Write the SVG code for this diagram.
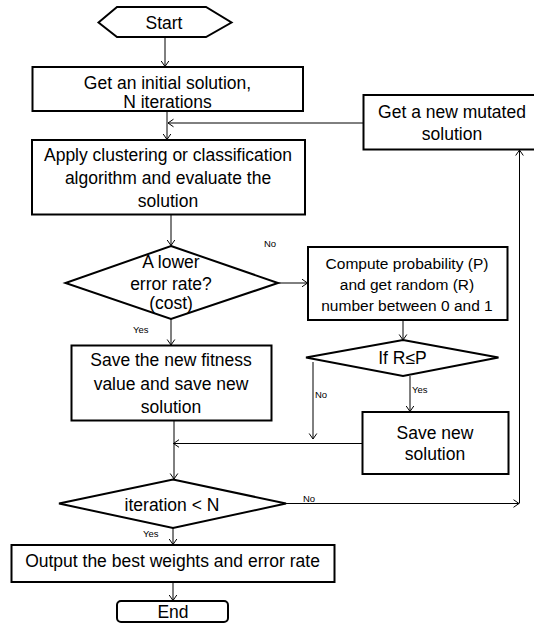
<svg xmlns="http://www.w3.org/2000/svg" width="534" height="625" viewBox="0 0 534 625">
<defs>
<style>
.n{fill:#fff;stroke:#000;stroke-width:2}
.t{font-family:"Liberation Sans",Arial,sans-serif;font-size:17.5px;fill:#000;text-anchor:middle}
.s{font-family:"Liberation Sans",Arial,sans-serif;font-size:15.5px;fill:#000;text-anchor:middle}
.l{font-family:"Liberation Sans",Arial,sans-serif;font-size:9.5px;fill:#000}
.c{fill:none;stroke:#000;stroke-width:1}
</style>
<marker id="a" markerUnits="userSpaceOnUse" markerWidth="10" markerHeight="10" viewBox="-6 -5 7 10" refX="0" refY="0" orient="auto">
<path d="M-5.5,-3.8 L0,0 L-5.5,3.8" fill="none" stroke="#000" stroke-width="1"/>
</marker>
</defs>
<rect width="534" height="625" fill="#fff"/>
<g id="connectors">
<line class="c" x1="165" y1="37" x2="165" y2="66.5" marker-end="url(#a)"/>
<line class="c" x1="167" y1="111" x2="167" y2="139.5" marker-end="url(#a)"/>
<line class="c" x1="363" y1="123" x2="168" y2="123" marker-end="url(#a)"/>
<line class="c" x1="171" y1="214" x2="171" y2="245.5" marker-end="url(#a)"/>
<line class="c" x1="278" y1="283" x2="307.5" y2="283" marker-end="url(#a)"/>
<line class="c" x1="171" y1="319" x2="171" y2="345" marker-end="url(#a)"/>
<line class="c" x1="403" y1="320" x2="403" y2="340" marker-end="url(#a)"/>
<line class="c" x1="313" y1="362" x2="313" y2="439" marker-end="url(#a)"/>
<line class="c" x1="410" y1="376" x2="410" y2="411.5" marker-end="url(#a)"/>
<line class="c" x1="362" y1="443.5" x2="173.5" y2="443.5" marker-end="url(#a)"/>
<line class="c" x1="174" y1="420.5" x2="174" y2="479" marker-end="url(#a)"/>
<line class="c" x1="286" y1="503.5" x2="519" y2="503.5" marker-end="url(#a)"/>
<line class="c" x1="519.5" y1="503.5" x2="519.5" y2="150" marker-end="url(#a)"/>
<line class="c" x1="173" y1="528" x2="173" y2="544.5" marker-end="url(#a)"/>
<line class="c" x1="173" y1="582" x2="173" y2="600.5" marker-end="url(#a)"/>
<text class="l" x="264" y="247">No</text>
<text class="l" x="133" y="333">Yes</text>
<text class="l" x="315" y="398">No</text>
<text class="l" x="412" y="393">Yes</text>
<text class="l" x="303" y="501.5">No</text>
<text class="l" x="143" y="537">Yes</text>
</g>
<g id="start">
<polygon class="n" points="98.5,22.5 117,7 206,7 231.5,22.5 206,37 117,37"/>
<text class="t" x="164" y="29">Start</text>
</g>
<g id="init">
<rect class="n" x="32.5" y="67" width="270.5" height="44"/>
<text class="t" x="167.5" y="89">Get an initial solution,</text>
<text class="t" x="167.5" y="108">N iterations</text>
</g>
<g id="mutate">
<rect class="n" x="363.5" y="95" width="175" height="54.5"/>
<text class="t" x="452" y="118">Get a new mutated</text>
<text class="t" x="452" y="140">solution</text>
</g>
<g id="apply">
<rect class="n" x="32" y="140" width="273" height="74.5"/>
<text class="t" x="168" y="160.5">Apply clustering or classification</text>
<text class="t" x="168" y="183.5">algorithm and evaluate the</text>
<text class="t" x="168" y="206.5">solution</text>
</g>
<g id="lower">
<polygon class="n" points="171,246 278,283 171,319 65.5,283"/>
<text class="t" x="171" y="268">A lower</text>
<text class="t" x="171" y="290">error rate?</text>
<text class="t" x="171" y="309">(cost)</text>
</g>
<g id="compute">
<rect class="n" x="308" y="247" width="199.5" height="73"/>
<text class="s" x="407" y="269">Compute probability (P)</text>
<text class="s" x="407" y="290">and get random (R)</text>
<text class="s" x="407" y="310.5">number between 0 and 1</text>
</g>
<g id="save">
<rect class="n" x="71.5" y="345.5" width="200" height="75"/>
<text class="t" x="171" y="366">Save the new fitness</text>
<text class="t" x="171" y="389.5">value and save new</text>
<text class="t" x="171" y="412.5">solution</text>
</g>
<g id="rp">
<polygon class="n" points="403,340 498.5,357.5 403,376 306,357.5"/>
<text class="t" x="402.5" y="363.5">If R≤P</text>
</g>
<g id="savenew">
<rect class="n" x="362.5" y="412" width="146" height="62"/>
<text class="t" x="435" y="438.5">Save new</text>
<text class="t" x="435" y="460">solution</text>
</g>
<g id="iter">
<polygon class="n" points="173,479.5 286,503.5 173,528 59,503.5"/>
<text class="t" x="172" y="510.5">iteration &lt; N</text>
</g>
<g id="output">
<rect class="n" x="11.5" y="545" width="323" height="37"/>
<text class="t" x="172.5" y="567">Output the best weights and error rate</text>
</g>
<g id="end">
<rect class="n" x="117" y="601" width="111" height="21" rx="4"/>
<text class="t" x="173" y="617.5">End</text>
</g>
</svg>
